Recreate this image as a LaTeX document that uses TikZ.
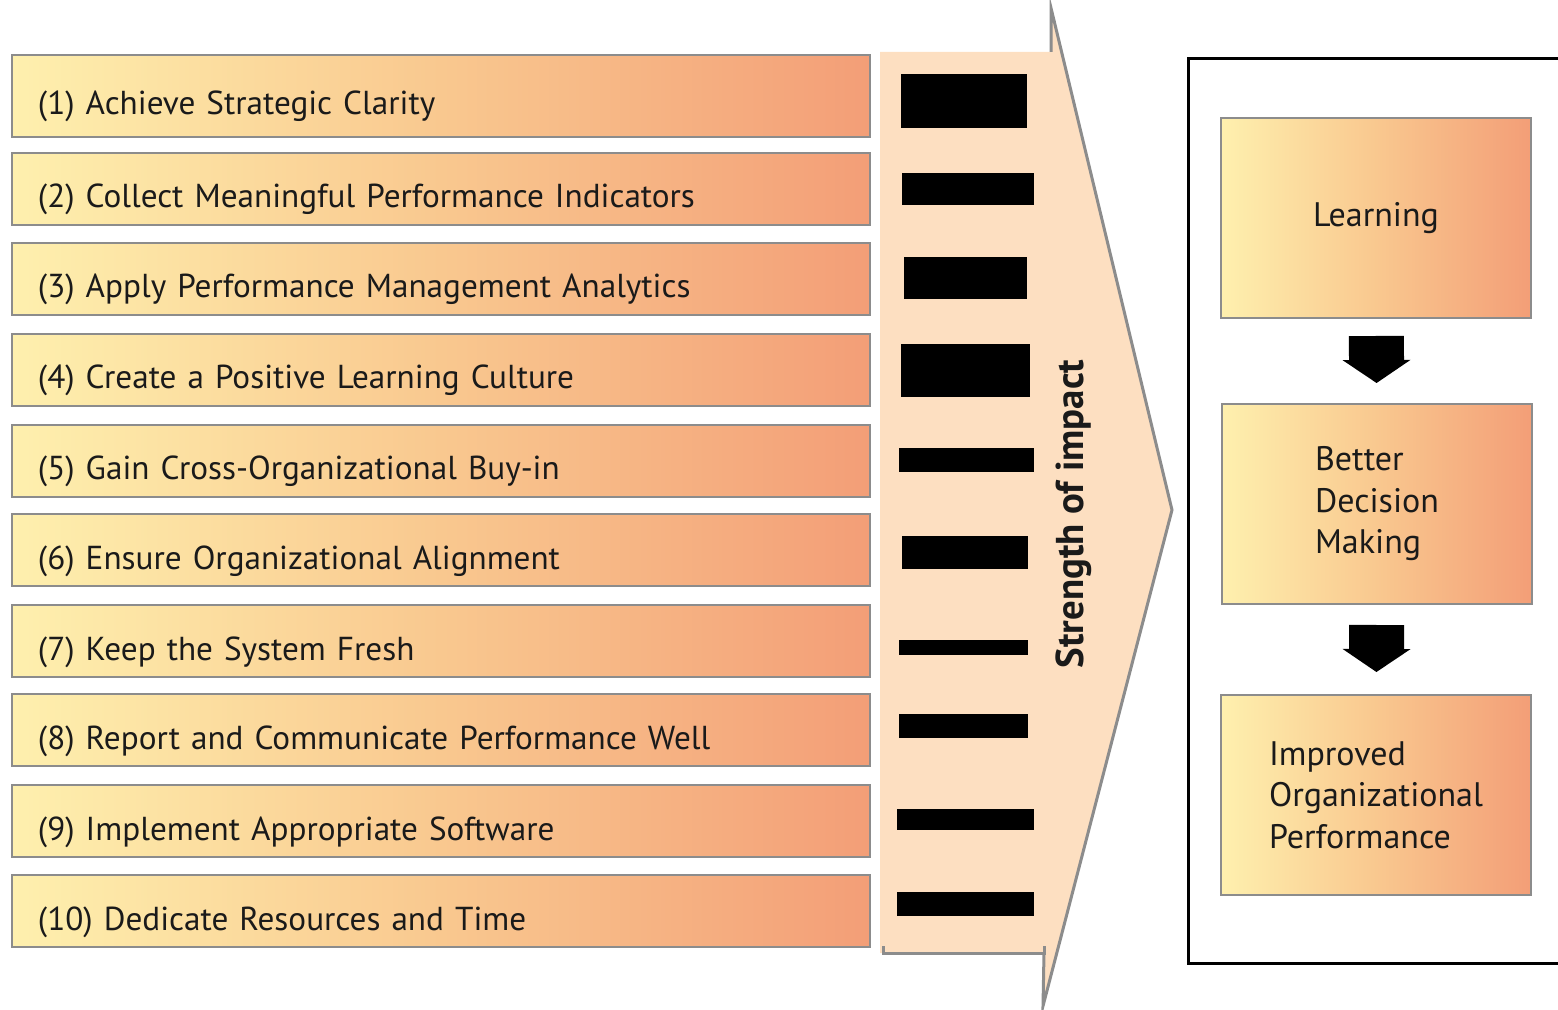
\documentclass[tikz,border=0pt]{standalone}
\usepackage{fontspec}
\setmainfont{PT Sans}
\usepackage{tikz}
\usetikzlibrary{arrows.meta}

\definecolor{lowyellow}{HTML}{FEF0AE}
\definecolor{midorange}{HTML}{F9C88F}
\definecolor{highorange}{HTML}{F39E77}
\definecolor{peach}{HTML}{FDDFC1}
\definecolor{rim}{HTML}{8C8C8C}
\definecolor{ink}{HTML}{1A1A1A}

\begin{document}
\begin{tikzpicture}[x=0.5pt, y=-0.5pt,
		factor/.style={draw=rim, line width=1pt, left color=lowyellow, right color=highorange, middle color=midorange,
			minimum height=36pt, text width=403pt, inner xsep=13pt, text height=22pt, text depth=3pt,
			align=left, text=ink, font=\fontsize{16.6}{19}\selectfont},
		outcome/.style={draw=rim, line width=1pt, left color=lowyellow, right color=highorange, middle color=midorange,
			minimum width=155pt, minimum height=100pt, align=left, text=ink, font=\fontsize{17}{20.75}\selectfont},
		flow/.style={line width=27.5pt, -{Triangle[width=34pt, length=11.5pt, line width=0pt]}}]
		
		\useasboundingbox (0,0) rectangle (1558,1010);
		
		% the big arrow behind the bars
		\fill[peach] (880,52) -- (1051,52) -- (1051,8) -- (1172,510) -- (1043,1006) -- (1043,953) -- (880,953) -- cycle;
		\draw[rim, line width=1.5pt] (883,946) -- (883,953) -- (1044,953) -- (1044,946);
		\draw[rim, line width=1.5pt] (1044,953) -- (1043,1006) -- (1172,510) -- (1051,8) -- (1051,52);
		\node[rotate=90, text=ink, font=\bfseries\fontsize{19.4}{19.4}\selectfont] (strength) at (1074,514) {Strength of impact};
		
		% the ten factors
		\node[factor, minimum height=41pt] (f1) at (441,96) {(1) Achieve Strategic Clarity};
		\node[factor] (f2) at (441,189) {(2) Collect Meaningful Performance Indicators};
		\node[factor] (f3) at (441,279) {(3) Apply Performance Management Analytics};
		\node[factor] (f4) at (441,370) {(4) Create a Positive Learning Culture};
		\node[factor] (f5) at (441,461) {(5) Gain Cross-Organizational Buy-in};
		\node[factor] (f6) at (441,550) {(6) Ensure Organizational Alignment};
		\node[factor] (f7) at (441,641) {(7) Keep the System Fresh};
		\node[factor] (f8) at (441,730) {(8) Report and Communicate Performance Well};
		\node[factor] (f9) at (441,821) {(9) Implement Appropriate Software};
		\node[factor] (f10) at (441,911) {(10) Dedicate Resources and Time};
		
		% strength bars
		\fill[black] (901,74) rectangle (1027,128);
		\fill[black] (902,173) rectangle (1034,205);
		\fill[black] (904,257) rectangle (1027,299);
		\fill[black] (901,344) rectangle (1030,397);
		\fill[black] (899,448) rectangle (1034,472);
		\fill[black] (902,536) rectangle (1028,569);
		\fill[black] (899,640) rectangle (1028,655);
		\fill[black] (899,714) rectangle (1028,738);
		\fill[black] (897,809) rectangle (1034,830);
		\fill[black] (897,892) rectangle (1034,916);
		
		% outcome frame, open to the right
		\draw[black, line width=1.5pt] (1560,59) -- (1188,59) -- (1188,963) -- (1560,963);
		
		\node[outcome] (learn) at (1376,218) {Learning};
		\node[outcome] (better) at (1377,504) {Better\\Decision\\Making};
		\node[outcome] (improved) at (1376,795) {Improved\\Organizational\\Performance};
		
		\draw[flow, shorten <=8.5pt, shorten >=10pt] (learn) -- (better);
		\draw[flow, shorten <=10pt, shorten >=11pt] (better) -- (improved);
		
\end{tikzpicture}
\end{document}
